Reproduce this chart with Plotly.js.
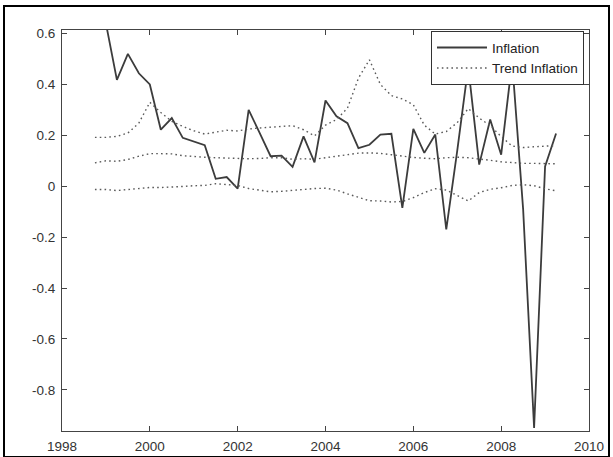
<!DOCTYPE html>
<html>
<head>
<meta charset="utf-8">
<script src="https://cdn.plot.ly/plotly-3.0.1.min.js"></script>
<style>
  html, body { margin: 0; padding: 0; background: #fff; }
  #wrap { position: relative; width: 613px; height: 457px; overflow: hidden; }
  #chart { position: absolute; left: 0; top: 0; width: 613px; height: 457px; }
  #frame { position: absolute; left: 3px; top: 5px; width: 603px; height: 449px;
           border: 2px solid #000; pointer-events: none; }
</style>
</head>
<body>
<div id="wrap">
  <div id="chart"></div>
  <div id="frame"></div>
</div>
<script>
// Quarterly observations (decimal years)
const quarters = [
  1998.75,
  1999.00, 1999.25, 1999.50, 1999.75,
  2000.00, 2000.25, 2000.50, 2000.75,
  2001.00, 2001.25, 2001.50, 2001.75,
  2002.00, 2002.25, 2002.50, 2002.75,
  2003.00, 2003.25, 2003.50, 2003.75,
  2004.00, 2004.25, 2004.50, 2004.75,
  2005.00, 2005.25, 2005.50, 2005.75,
  2006.00, 2006.25, 2006.50, 2006.75,
  2007.00, 2007.25, 2007.50, 2007.75,
  2008.00, 2008.25, 2008.50, 2008.75,
  2009.00, 2009.25
];

// Observed inflation
const inflation = [
  0.78,
  0.64, 0.418, 0.52, 0.444,
  0.40, 0.222, 0.268, 0.19,
  0.176, 0.161, 0.029, 0.036,
  -0.009, 0.30, 0.21, 0.118,
  0.12, 0.076, 0.196, 0.094,
  0.337, 0.275, 0.248, 0.15,
  0.163, 0.203, 0.206, -0.085,
  0.225, 0.131, 0.203, -0.17,
  0.14, 0.47, 0.085, 0.262,
  0.124, 0.49, -0.09, -0.95,
  0.078, 0.207
];

// Trend inflation: upper band, central estimate, lower band
const trendUpper = [
  0.192,
  0.192, 0.196, 0.209, 0.248,
  0.330, 0.290, 0.255, 0.235,
  0.218, 0.205, 0.212, 0.220,
  0.217, 0.225, 0.229, 0.231,
  0.235, 0.238, 0.222, 0.198,
  0.240, 0.262, 0.307, 0.425,
  0.497, 0.400, 0.356, 0.343,
  0.320, 0.240, 0.205, 0.215,
  0.250, 0.305, 0.268, 0.238,
  0.195, 0.158, 0.152, 0.155,
  0.158, 0.160
];

const trendMid = [
  0.092,
  0.100, 0.098, 0.105, 0.118,
  0.128, 0.128, 0.127, 0.120,
  0.116, 0.114, 0.112, 0.110,
  0.108, 0.108, 0.109, 0.112,
  0.112, 0.106, 0.108, 0.106,
  0.112, 0.118, 0.126, 0.130,
  0.131, 0.129, 0.124, 0.118,
  0.113, 0.110, 0.108, 0.112,
  0.114, 0.112, 0.108, 0.102,
  0.096, 0.092, 0.090, 0.090,
  0.089, 0.088
];

const trendLower = [
  -0.013,
  -0.013, -0.017, -0.013, -0.009,
  -0.005, -0.005, -0.004, -0.001,
  0.002, 0.003, 0.010, 0.007,
  0.003, -0.009, -0.017, -0.022,
  -0.020, -0.016, -0.013, -0.009,
  -0.008, -0.015, -0.030, -0.045,
  -0.057, -0.058, -0.062, -0.060,
  -0.045, -0.025, -0.010, -0.015,
  -0.035, -0.058, -0.025, -0.012,
  -0.006, 0.003, 0.006, 0.002,
  -0.010, -0.018
];

// Axis ticks
const xTicks = [1998, 2000, 2002, 2004, 2006, 2008, 2010];
const yTicks = [-0.8, -0.6, -0.4, -0.2, 0, 0.2, 0.4, 0.6];
const yTickText = ["-0.8", "-0.6", "-0.4", "-0.2", "0", "0.2", "0.4", "0.6"];

const solidLine = { color: '#3c3c3c', width: 1.8 };
const dotLine = { color: '#5a5a5a', width: 1.4, dash: '1.6px,3.2px' };

const traces = [
  { x: quarters, y: inflation, type: 'scatter', mode: 'lines',
    name: 'Inflation', line: solidLine },
  { x: quarters, y: trendMid, type: 'scatter', mode: 'lines',
    name: 'Trend Inflation', line: dotLine },
  { x: quarters, y: trendUpper, type: 'scatter', mode: 'lines',
    name: 'Trend Inflation', line: dotLine, showlegend: false },
  { x: quarters, y: trendLower, type: 'scatter', mode: 'lines',
    name: 'Trend Inflation', line: dotLine, showlegend: false }
];

const axisFont = { family: 'Liberation Sans, Arial, sans-serif', size: 13.5, color: '#333' };

const layout = {
  width: 613, height: 457,
  margin: { l: 62, r: 24, t: 30, b: 26, pad: 0 },
  paper_bgcolor: '#ffffff',
  plot_bgcolor: '#ffffff',
  showlegend: true,
  legend: {
    x: 0.9905, y: 0.997, xanchor: 'right', yanchor: 'top',
    bgcolor: '#ffffff', bordercolor: '#333', borderwidth: 1,
    font: { family: 'Liberation Sans, Arial, sans-serif', size: 13.5, color: '#222' },
    itemwidth: 50,
    tracegroupgap: 0
  },
  xaxis: {
    range: [1998, 2010],
    tickvals: xTicks, ticktext: xTicks.map(String),
    ticks: 'inside', ticklen: 5, tickwidth: 1, tickcolor: '#444',
    ticklabelstandoff: 3,
    showline: true, linecolor: '#444', linewidth: 1, mirror: 'ticks',
    showgrid: false, zeroline: false,
    tickfont: axisFont
  },
  yaxis: {
    range: [-0.962, 0.614],
    tickvals: yTicks, ticktext: yTickText,
    ticks: 'inside', ticklen: 5, tickwidth: 1, tickcolor: '#444',
    ticklabelstandoff: 3,
    showline: true, linecolor: '#444', linewidth: 1, mirror: 'ticks',
    showgrid: false, zeroline: false,
    tickfont: axisFont
  }
};

Plotly.newPlot('chart', traces, layout, { displayModeBar: false, staticPlot: true });
</script>
</body>
</html>
